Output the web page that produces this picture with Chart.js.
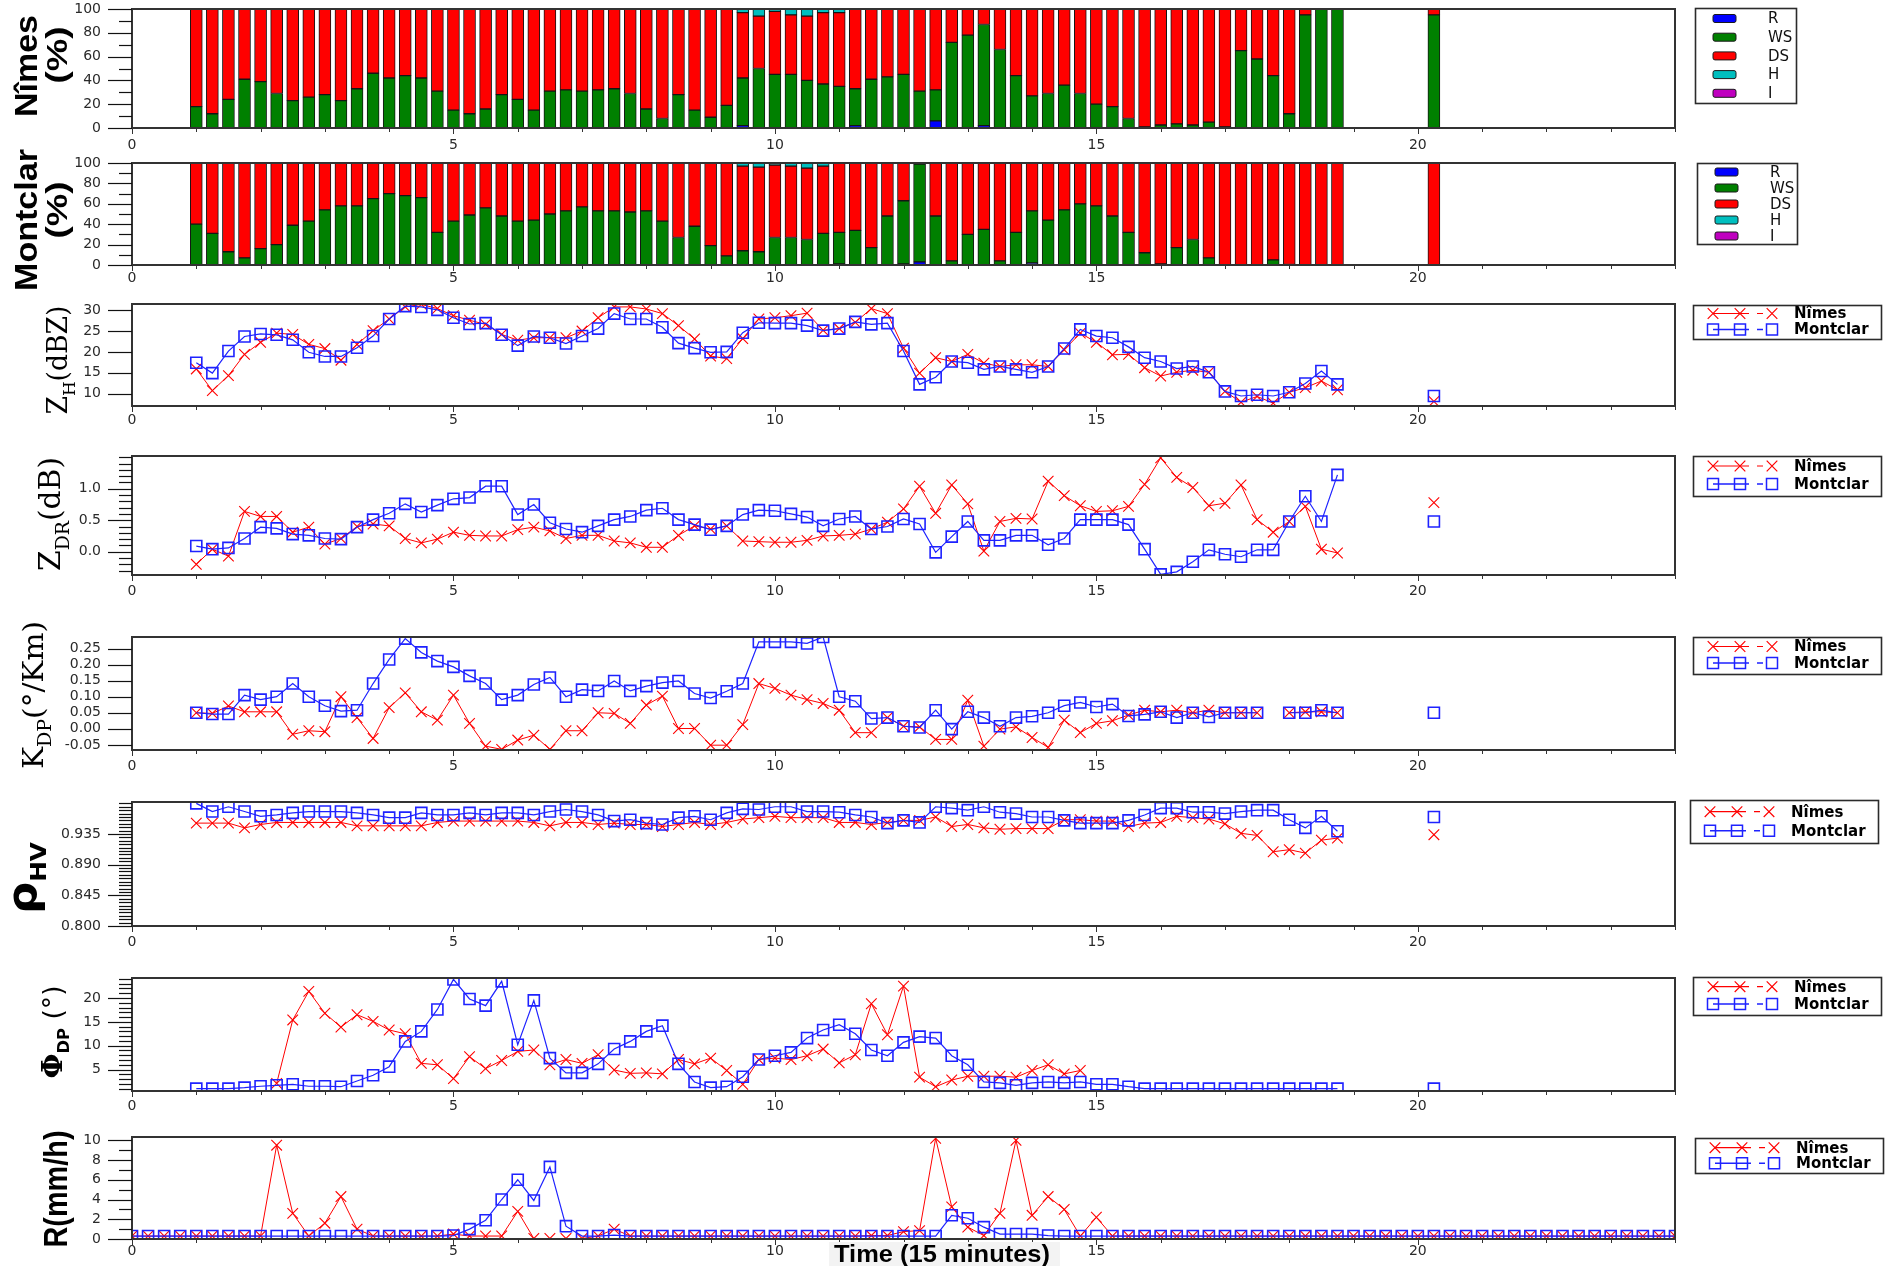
<!DOCTYPE html>
<html>
<head>
<meta charset="utf-8">
<title>Nîmes / Montclar polarimetric time series</title>
<script src="https://cdn.jsdelivr.net/npm/chart.js@4.4.1/dist/chart.umd.min.js"></script>
<style>
  html, body { margin: 0; padding: 0; background: #ffffff; }
  body { width: 1890px; height: 1266px; position: relative; overflow: hidden; }
  canvas { position: absolute; left: 0; }
</style>
</head>
<body>
<script>
// ---------- time axis (units of 15 minutes) ----------
const times = [1,1.25,1.5,1.75, 2,2.25,2.5,2.75, 3,3.25,3.5,3.75, 4,4.25,4.5,4.75, 5,5.25,5.5,5.75,
  6,6.25,6.5,6.75, 7,7.25,7.5,7.75, 8,8.25,8.5,8.75, 9,9.25,9.5,9.75, 10,10.25,10.5,10.75,
  11,11.25,11.5,11.75, 12,12.25,12.5,12.75, 13,13.25,13.5,13.75, 14,14.25,14.5,14.75,
  15,15.25,15.5,15.75, 16,16.25,16.5,16.75, 17,17.25,17.5,17.75, 18,18.25,18.5,18.75, 20.25];

const rainTimes = [0,0.25,0.5,0.75, 1,1.25,1.5,1.75, 2,2.25,2.5,2.75, 3,3.25,3.5,3.75, 4,4.25,4.5,4.75,
  5,5.25,5.5,5.75, 6,6.25,6.5,6.75, 7,7.25,7.5,7.75, 8,8.25,8.5,8.75, 9,9.25,9.5,9.75,
  10,10.25,10.5,10.75, 11,11.25,11.5,11.75, 12,12.25,12.5,12.75, 13,13.25,13.5,13.75,
  14,14.25,14.5,14.75, 15,15.25,15.5,15.75, 16,16.25,16.5,16.75, 17,17.25,17.5,17.75,
  18,18.25,18.5,18.75, 19,19.25,19.5,19.75, 20,20.25,20.5,20.75, 21,21.25,21.5,21.75,
  22,22.25,22.5,22.75, 23,23.25,23.5,23.75, 24];

// ---------- hydrometeor classes (%) : R, WS, DS, H, I ----------
const nimesR  = [0,0,0,0,0,0,0,0,0,0, 0,0,0,0,0,0,0,0,0,0, 0,0,0,0,0,0,0,0,0,0, 0,0,0,0,2,0,
  0,0,0,0,0,2,0,0,0,0, 6,0,0,2,0,0,0,0,0,0, 0,0,0,0,0,0,0,0,0,0, 0,0,0,0,0,0, 0];
const nimesWS = [18,12,24,41,39,29,23,26,28,23, 33,46,42,44,42,31,15,12,16,28, 24,15,31,32,31,32,33,29,16,8, 28,15,9,19,40,50,
  45,45,40,37,35,31,41,43,45,31, 26,72,78,85,66,44,27,29,36,29, 20,18,8,1,2.5,3.5,2.5,5,1,65, 58,44,12,95,100,100, 95];
const nimesDS = [82,88,76,59,61,71,77,74,72,77, 67,54,58,56,58,69,85,88,84,72, 76,85,69,68,69,68,67,71,84,92, 72,85,91,81,55,44,
  53,50,54,60,62,67,59,57,55,69, 68,28,22,13,34,56,73,71,64,71, 80,82,92,99,97.5,96.5,97.5,95,99,35, 42,56,88,5,0,0, 5];
const nimesH  = [0,0,0,0,0,0,0,0,0,0, 0,0,0,0,0,0,0,0,0,0, 0,0,0,0,0,0,0,0,0,0, 0,0,0,0,3,6,
  2,5,6,3,3,0,0,0,0,0, 0,0,0,0,0,0,0,0,0,0, 0,0,0,0,0,0,0,0,0,0, 0,0,0,0,0,0, 0];
const nimesI  = new Array(times.length).fill(0);

const montR  = [0,0,0,0,0,0,0,0,0,0, 0,0,0,0,0,0,0,0,0,0, 0,0,0,0,0,0,0,0,0,0, 0,0,0,0,0,0,
  0,0,0,0,1,0,0,0,1,3, 0,0,0,0,0,0,2,0,0,0, 0,0,0,0,0,0,0,0,0,0, 0,0,0,0,0,0, 0];
const montWS = [40,31,13,7,16,20,39,43,54,58, 58,65,70,68,66,32,43,49,56,48, 43,44,50,53,57,53,53,52,53,43, 27,38,19,9,14,13,
  27,27,25,31,31,34,17,48,62,96, 48,4,30,35,4,32,51,44,54,60, 58,48,32,12,1,17,25,7,0,0, 0,5,0.5,0,0,0, 0];
const montDS = [60,69,87,93,84,80,61,57,46,42, 42,35,30,32,34,68,57,51,44,52, 57,56,50,47,43,47,47,48,47,57, 73,62,81,91,83,83,
  71,70,70,66,68,66,83,52,37,1, 52,96,70,65,96,68,47,56,46,40, 42,52,68,88,99,83,75,93,100,100, 100,95,99.5,100,100,100, 100];
const montH  = [0,0,0,0,0,0,0,0,0,0, 0,0,0,0,0,0,0,0,0,0, 0,0,0,0,0,0,0,0,0,0, 0,0,0,0,3,4,
  2,3,5,3,0,0,0,0,0,0, 0,0,0,0,0,0,0,0,0,0, 0,0,0,0,0,0,0,0,0,0, 0,0,0,0,0,0, 0];
const montI  = new Array(times.length).fill(0);

// ---------- reflectivity Z_H (dBZ) ----------
const zhNimes = [15.9,10.7,14.3,19.4,22.3,24.5,24.2,21.8,20.8,18.0, 21.8,25.1,27.9,30.8,31.4,30.4,28.7,27.6,26.6,24.2,
  22.8,23.4,23.4,23.4,25.0,28.2,30.8,30.8,30.3,29.2, 26.3,23.1,19.0,18.4,23.2,27.9,
  28.2,28.7,29.3,25.2,25.6,27.1,30.4,29.2,20.9,14.9, 18.6,17.7,19.4,17.3,16.5,16.9,16.9,16.5,20.5,24.5,
  22.3,19.3,19.4,16.2,14.2,15.1,15.6,15.1,10.5,7.9, 9.3,7.7,10.3,11.4,13.0,10.9, 8.1];
const zhMont = [17.4,14.9,20.2,23.7,24.3,24.1,22.9,19.9,18.9,18.9, 21.0,23.8,27.9,31.0,30.8,30.1,28.2,26.7,26.9,24.1,
  21.5,23.7,23.4,22.0,23.8,25.6,29.2,27.9,27.9,25.9, 22.1,20.9,19.9,20.0,24.6,27.0,
  26.9,26.9,26.3,25.1,25.6,27.2,26.6,26.9,20.2,12.2, 13.9,17.7,17.4,15.8,16.5,15.8,15.1,16.5,20.8,25.4,
  23.8,23.4,21.2,18.6,17.7,16.0,16.5,15.1,10.5,9.4, 9.7,9.4,10.3,12.4,15.4,12.2, 9.4];

// ---------- differential reflectivity Z_DR (dB) ----------
const zdrNimes = [-0.20,0.04,-0.07,0.64,0.56,0.56,0.31,0.39,0.12,0.21, 0.40,0.44,0.41,0.21,0.14,0.20,0.31,0.26,0.25,0.25,
  0.35,0.39,0.33,0.21,0.26,0.26,0.17,0.14,0.07,0.07, 0.26,0.41,0.36,0.41,0.17,0.16,
  0.15,0.15,0.18,0.25,0.26,0.28,0.36,0.47,0.68,1.04, 0.61,1.06,0.76,0.01,0.48,0.53,0.52,1.12,0.89,0.73,
  0.64,0.65,0.72,1.07,1.49,1.18,1.02,0.73,0.77,1.06, 0.51,0.31,0.48,0.72,0.04,-0.02, 0.78];
const zdrMont = [0.09,0.04,0.06,0.21,0.39,0.37,0.28,0.26,0.21,0.20, 0.39,0.51,0.61,0.76,0.63,0.74,0.84,0.86,1.04,1.04,
  0.59,0.75,0.46,0.36,0.31,0.41,0.51,0.56,0.66,0.69, 0.51,0.43,0.35,0.41,0.59,0.66,
  0.65,0.60,0.55,0.41,0.52,0.56,0.36,0.40,0.52,0.44, -0.01,0.24,0.48,0.18,0.18,0.26,0.26,0.11,0.21,0.51,
  0.51,0.51,0.43,0.04,-0.36,-0.32,-0.16,0.03,-0.04,-0.08, 0.03,0.03,0.48,0.88,0.48,1.22, 0.48];

// ---------- specific differential phase K_DP (deg/km) ----------
const kdpNimes = [0.050,0.048,0.071,0.053,0.053,0.053,-0.017,-0.006,-0.009,0.100, 0.035,-0.030,0.066,0.112,0.053,0.027,0.105,0.017,-0.054,-0.064,
  -0.035,-0.020,-0.064,-0.006,-0.006,0.050,0.048,0.017,0.074,0.102, 0.001,0.001,-0.051,-0.051,0.013,0.141,
  0.126,0.105,0.091,0.079,0.058,-0.012,-0.012,0.035,0.008,0.006, -0.033,-0.033,0.089,-0.054,-0.001,0.006,-0.027,-0.058,0.027,-0.012,
  0.017,0.025,0.043,0.058,0.053,0.058,0.050,0.058,0.050,0.050, 0.050,null,0.050,0.053,0.053,0.050, null];
const kdpMont = [0.050,0.046,0.046,0.105,0.091,0.100,0.141,0.100,0.072,0.055, 0.058,0.141,0.216,0.281,0.238,0.211,0.193,0.165,0.141,0.091,
  0.105,0.138,0.160,0.100,0.122,0.118,0.149,0.118,0.133,0.144, 0.149,0.110,0.096,0.117,0.141,0.271,
  0.271,0.271,0.266,0.286,0.100,0.086,0.032,0.035,0.008,0.004, 0.058,-0.001,0.053,0.035,0.008,0.035,0.039,0.050,0.072,0.082,
  0.068,0.077,0.040,0.045,0.053,0.035,0.050,0.037,0.050,0.050, 0.050,null,0.050,0.050,0.058,0.050, 0.050];

// ---------- co-polar correlation rho_HV ----------
const rhoNimes = [0.951,0.951,0.951,0.944,0.949,0.952,0.952,0.952,0.952,0.952, 0.947,0.947,0.947,0.947,0.947,0.952,0.954,0.954,0.954,0.954,
  0.954,0.952,0.947,0.952,0.952,0.949,0.951,0.949,0.949,0.946, 0.949,0.952,0.949,0.952,0.957,0.959,
  0.961,0.959,0.959,0.959,0.952,0.952,0.949,0.952,0.955,0.955, 0.960,0.946,0.949,0.944,0.942,0.943,0.943,0.943,0.956,0.956,
  0.954,0.954,0.946,0.951,0.952,0.961,0.959,0.957,0.950,0.936, 0.933,0.909,0.912,0.907,0.926,0.929, 0.934];
const rhoMont = [0.980,0.968,0.975,0.968,0.961,0.963,0.966,0.968,0.968,0.968, 0.966,0.963,0.959,0.959,0.966,0.963,0.963,0.966,0.963,0.966,
  0.966,0.963,0.968,0.971,0.968,0.963,0.954,0.956,0.951,0.949, 0.959,0.961,0.956,0.966,0.972,0.971,
  0.975,0.975,0.968,0.968,0.967,0.963,0.960,0.951,0.955,0.952, 0.975,0.973,0.970,0.975,0.967,0.965,0.960,0.960,0.955,0.951,
  0.951,0.951,0.955,0.963,0.973,0.973,0.967,0.967,0.965,0.968, 0.970,0.970,0.956,0.944,0.961,0.939, 0.960];

// ---------- differential phase Phi_DP (deg) ----------
const phiNimes = [null,null,null,null,null,2.1,15.4,21.4,16.8,13.9, 16.5,15.1,13.3,12.5,6.3,6.0,3.1,7.7,5.2,6.9,
  8.8,9.1,6.0,7.1,6.3,8.1,4.9,4.2,4.3,4.1, 7.1,6.2,7.4,4.8,1.9,7.1,
  7.4,7.1,7.9,9.3,6.4,8.1,18.8,12.3,22.5,3.4, 1.4,2.8,3.6,3.6,3.6,3.4,4.8,6.0,4.1,4.8,
  null,null,null,null,null,null,null,null,null,null, null,null,null,null,null,null, null];
const phiMont = [1.0,1.0,1.0,1.2,1.5,1.7,1.9,1.5,1.5,1.4, 2.6,3.8,5.6,10.9,13.0,17.6,23.9,19.8,18.4,23.5,
  10.2,19.5,7.4,4.3,4.3,6.2,9.3,10.9,13.0,14.2, 6.2,2.4,1.2,1.4,3.5,7.1,
  7.9,8.6,11.6,13.3,14.4,12.5,9.1,7.9,10.7,11.9, 11.6,7.9,6.0,2.4,2.2,1.7,2.2,2.4,2.2,2.4,
  1.9,1.9,1.4,1.0,1.0,1.0,1.0,1.0,1.0,1.0, 1.0,1.0,1.0,1.0,1.0,1.0, 1.0];

// ---------- rain rate R (mm/h), sampled over the whole axis ----------
const rainNimes = [0.3,0.3,0.3,0.3,
  0.3,0.3,0.3,0.3,0.3,9.5,2.6,0.3,1.6,4.3, 1.0,0.3,0.3,0.3,0.3,0.3,0.5,0.3,0.3,0.3,
  2.8,0.05,0.05,0.05,0.05,0.3,1.0,0.3,0.3,0.3, 0.3,0.3,0.3,0.3,0.3,0.3,
  0.3,0.3,0.3,0.3,0.3,0.3,0.35,0.35,0.75,0.85, 10.2,3.25,1.2,0.35,2.6,10.0,2.4,4.3,3.0,0.3,
  2.2,0.3,0.3,0.3,0.3,0.3,0.3,0.3,0.3,0.3, 0.3,0.3,0.3,0.3,0.3,0.3,
  0.3,0.3,0.3,0.3,0.3,0.3,0.3,0.3,0.3,0.3, 0.3,0.3,0.3,0.3,0.3,0.3,0.3,0.3,0.3,0.3, 0.3];
const rainMont = [0.3,0.3,0.3,0.3,
  0.3,0.3,0.3,0.3,0.3,0.3,0.3,0.3,0.3,0.3, 0.3,0.3,0.3,0.3,0.3,0.3,0.35,1.0,1.9,4.0,
  6.0,3.9,7.3,1.3,0.3,0.3,0.4,0.3,0.3,0.3, 0.3,0.3,0.3,0.3,0.3,0.3,
  0.3,0.3,0.3,0.3,0.3,0.3,0.3,0.3,0.3,0.3, 0.3,2.4,2.1,1.2,0.5,0.5,0.5,0.35,0.3,0.3,
  0.3,0.3,0.3,0.3,0.3,0.3,0.3,0.3,0.3,0.3, 0.3,0.3,0.3,0.3,0.3,0.3,
  0.3,0.3,0.3,0.3,0.3,0.3,0.3,0.3,0.3,0.3, 0.3,0.3,0.3,0.3,0.3,0.3,0.3,0.3,0.3,0.3, 0.3];

// ---------- tick labels ----------
const timeTickLabels = [0, 5, 10, 15, 20];
const pctTickLabels  = [0, 20, 40, 60, 80, 100];
const zhTickLabels   = [10, 15, 20, 25, 30];
const zdrTickLabels  = [0.0, 0.5, 1.0];
const kdpTickLabels  = [-0.05, 0.00, 0.05, 0.10, 0.15, 0.20, 0.25];
const rhoTickLabels  = [0.800, 0.845, 0.890, 0.935];
const phiTickLabels  = [5, 10, 15, 20];
const rainTickLabels = [0, 2, 4, 6, 8, 10];

const classNames = ['R', 'WS', 'DS', 'H', 'I'];
const stationNames = ['Nîmes', 'Montclar'];

// ---------- drawing constants ----------
const PAGE_W = 1890;
const PLOT_L = 132, PLOT_R = 1675;
const PAD_T = 26, PAD_B = 36;
const RED = '#ff0000', BLUE = '#1e22ff';
const CLASS_COLORS = ['#0000ff', '#008000', '#ff0000', '#00bfbf', '#bf00bf'];
const TICK_FONT = { family: 'DejaVu Sans', size: 14 };
const TICK_COLOR = '#2a2a2a';
const SERIF = '"DejaVu Serif", serif';
const SANS = '"DejaVu Sans", sans-serif';
const LIB = '"Liberation Sans", Arial, sans-serif';

Chart.defaults.font.family = 'DejaVu Sans';

function buildTicks(lo, hi, step, labels) {
  const n = Math.round((hi - lo) / step);
  const out = [];
  for (let k = 0; k <= n; k++) {
    const v = +(lo + k * step).toFixed(6);
    out.push({ value: v, lab: labels.some(l => Math.abs(l - v) < step / 100) });
  }
  return out;
}

const PANELS = [
  { kind: 'bar', top: 9, bottom: 128, yMin: 0, yMax: 100, xGap: 17,
    yt: { lo: 0, hi: 100, step: 10, labels: pctTickLabels, dec: 0 },
    classes: [nimesR, nimesWS, nimesDS, nimesH, nimesI],
    legend: { x: 1695, y: 8, w: 101, h: 95, rows: [18.5, 37.2, 55.9, 74.6, 93.3] },
    titles: [
      { x: 37, y: 66, len: 102, parts: [{ t: 'Nîmes', font: 'bold 31px ' + LIB }] },
      { x: 67, y: 55, len: 57, parts: [{ t: '(%)', font: 'bold 29px ' + LIB }] } ] },
  { kind: 'bar', top: 163, bottom: 265, yMin: 0, yMax: 100, xGap: 13,
    yt: { lo: 0, hi: 100, step: 10, labels: pctTickLabels, dec: 0 },
    classes: [montR, montWS, montDS, montH, montI],
    legend: { x: 1697, y: 163, w: 100, h: 81, rows: [172, 188, 204, 220, 236] },
    titles: [
      { x: 37, y: 220, len: 142, parts: [{ t: 'Montclar', font: 'bold 31px ' + LIB }] },
      { x: 67, y: 210, len: 57, parts: [{ t: '(%)', font: 'bold 29px ' + LIB }] } ] },
  { kind: 'line', top: 304, bottom: 406, yMin: 7, yMax: 31.5, xGap: 14,
    yt: { lo: 10, hi: 30, step: 5, labels: zhTickLabels, dec: 0 },
    series: [zhNimes, zhMont], x: times,
    legend: { x: 1693, y: 305, w: 188, h: 34, rows: [313.5, 329.5] },
    titles: [{ x: 67, y: 360, len: 109, parts: [
      { t: 'Z', font: '27px ' + SERIF }, { t: 'H', font: '17px ' + SERIF, dy: 8 }, { t: '(dBZ)', font: '27px ' + SERIF }] }] },
  { kind: 'line', top: 456, bottom: 575, yMin: -0.37, yMax: 1.52, xGap: 16,
    yt: { lo: -0.3, hi: 1.5, step: 0.1, labels: zdrTickLabels, dec: 1 },
    series: [zdrNimes, zdrMont], x: times,
    legend: { x: 1693, y: 456, w: 188, h: 40, rows: [466, 484] },
    titles: [{ x: 60, y: 514, len: 114, parts: [
      { t: 'Z', font: '30px ' + SERIF }, { t: 'DR', font: '19px ' + SERIF, dy: 9 }, { t: '(dB)', font: '30px ' + SERIF }] }] },
  { kind: 'line', top: 637, bottom: 750, yMin: -0.066, yMax: 0.286, xGap: 16,
    yt: { lo: -0.05, hi: 0.25, step: 0.05, labels: kdpTickLabels, dec: 2 },
    series: [kdpNimes, kdpMont], x: times,
    legend: { x: 1693, y: 637, w: 188, h: 37, rows: [646.5, 663] },
    titles: [{ x: 43, y: 695, len: 148, parts: [
      { t: 'K', font: '28px ' + SERIF }, { t: 'DP', font: '18px ' + SERIF, dy: 8 }, { t: '(°/Km)', font: '28px ' + SERIF }] }] },
  { kind: 'line', top: 802, bottom: 926, yMin: 0.8, yMax: 0.982, xGap: 16.5,
    yt: { lo: 0.8, hi: 0.98, step: 0.005, labels: rhoTickLabels, dec: 3 },
    series: [rhoNimes, rhoMont], x: times,
    legend: { x: 1690, y: 800, w: 188, h: 43, rows: [811.7, 830.7] },
    titles: [{ x: 36, y: 878, len: 72, parts: [
      { t: 'ρ', font: 'bold 40px ' + SANS }, { t: 'HV', font: 'bold 22px ' + SANS, dy: 10 }] }] },
  { kind: 'line', top: 978, bottom: 1091, yMin: 0.5, yMax: 24.2, xGap: 15.5,
    yt: { lo: 1, hi: 24, step: 1, labels: phiTickLabels, dec: 0 },
    series: [phiNimes, phiMont], x: times,
    legend: { x: 1693, y: 977, w: 188, h: 38, rows: [986.7, 1004] },
    titles: [{ x: 62, y: 1032, len: 93, parts: [
      { t: 'Φ', font: 'bold 28px ' + SERIF }, { t: 'DP', font: 'bold 16px ' + SANS, dy: 7 }, { t: ' (°)', font: '26px ' + SANS }] }] },
  { kind: 'line', top: 1137, bottom: 1239, yMin: 0, yMax: 10.33, xGap: 12.5,
    yt: { lo: 0, hi: 10, step: 1, labels: rainTickLabels, dec: 0 },
    series: [rainNimes, rainMont], x: rainTimes,
    legend: { x: 1695, y: 1138, w: 188, h: 35, rows: [1147.7, 1163.3] },
    titles: [{ x: 67, y: 1189, len: 117, parts: [{ t: 'R(mm/h)', font: 'bold 34px ' + LIB }] }],
    xTitle: { x: 942, y: 1262, len: 216, text: 'Time (15 minutes)', font: 'bold 24px ' + LIB } }
];

// rotated axis title made of several runs (main text, subscripts)
function drawRotatedTitle(ctx, spec, oy) {
  ctx.save();
  const widths = spec.parts.map(p => { ctx.font = p.font; return ctx.measureText(p.t).width; });
  const W = widths.reduce((a, b) => a + b, 0);
  const sx = spec.len ? spec.len / W : 1;
  ctx.translate(spec.x, spec.y - oy);
  ctx.rotate(-Math.PI / 2);
  ctx.scale(sx, 1);
  ctx.fillStyle = '#000';
  ctx.textAlign = 'left';
  ctx.textBaseline = 'alphabetic';
  let cx = -W / 2;
  spec.parts.forEach((p, i) => {
    ctx.font = p.font;
    ctx.fillText(p.t, cx, p.dy || 0);
    cx += widths[i];
  });
  ctx.restore();
}

function roundRect(ctx, x, y, w, h, r) {
  ctx.beginPath();
  ctx.moveTo(x + r, y);
  ctx.lineTo(x + w - r, y); ctx.quadraticCurveTo(x + w, y, x + w, y + r);
  ctx.lineTo(x + w, y + h - r); ctx.quadraticCurveTo(x + w, y + h, x + w - r, y + h);
  ctx.lineTo(x + r, y + h); ctx.quadraticCurveTo(x, y + h, x, y + h - r);
  ctx.lineTo(x, y + r); ctx.quadraticCurveTo(x, y, x + r, y);
  ctx.closePath();
}

function legendBox(ctx, L, oy) {
  ctx.fillStyle = '#ffffff';
  ctx.fillRect(L.x, L.y - oy, L.w, L.h);
  ctx.strokeStyle = '#2b2b2b';
  ctx.lineWidth = 1.6;
  ctx.strokeRect(L.x + 0.5, L.y - oy + 0.5, L.w, L.h);
}

function drawBarLegend(ctx, chart, L, oy) {
  legendBox(ctx, L, oy);
  chart.data.datasets.forEach((ds, k) => {
    const y = L.rows[k] - oy;
    roundRect(ctx, L.x + 18, y - 4, 23, 8, 2);
    ctx.fillStyle = ds.backgroundColor; ctx.fill();
    ctx.strokeStyle = '#1a1a1a'; ctx.lineWidth = 1; ctx.stroke();
    ctx.fillStyle = '#111';
    ctx.font = '15px ' + SANS;
    ctx.textAlign = 'left'; ctx.textBaseline = 'middle';
    ctx.fillText(ds.label, L.x + 73, y + 1);
  });
}

function legendMarker(ctx, style, x, y) {
  ctx.beginPath();
  if (style === 'rect') {
    ctx.rect(x - 5.5, y - 5.5, 11, 11);
  } else {
    ctx.moveTo(x - 5.3, y - 5.3); ctx.lineTo(x + 5.3, y + 5.3);
    ctx.moveTo(x + 5.3, y - 5.3); ctx.lineTo(x - 5.3, y + 5.3);
  }
  ctx.stroke();
}

function drawLineLegend(ctx, chart, L, oy) {
  legendBox(ctx, L, oy);
  stationNames.forEach((name, k) => {
    const ds = chart.data.datasets.find(d => d.label === name);
    const y = L.rows[k] - oy;
    const x0 = L.x;
    ctx.strokeStyle = ds.borderColor;
    ctx.lineWidth = ds.pointStyle === 'rect' ? 1.5 : 1.2;
    ctx.beginPath();
    ctx.moveTo(x0 + 20, y); ctx.lineTo(x0 + 56, y);
    ctx.moveTo(x0 + 64, y); ctx.lineTo(x0 + 70, y);
    ctx.stroke();
    [20, 47, 79].forEach(dx => legendMarker(ctx, ds.pointStyle, x0 + dx, y));
    ctx.fillStyle = '#000';
    ctx.font = 'bold 15px ' + SANS;
    ctx.textAlign = 'left'; ctx.textBaseline = 'middle';
    ctx.fillText(name, x0 + 101, y + 1);
  });
}

function decorPlugin(panel) {
  const oy = panel.top - PAD_T;
  return {
    id: 'panelDecor',
    afterDatasetsDraw(chart) {
      const ctx = chart.ctx, a = chart.chartArea;
      ctx.save();
      // frame
      ctx.strokeStyle = '#333';
      ctx.lineWidth = 2;
      ctx.strokeRect(a.left, a.top, a.right - a.left, a.bottom - a.top);
      // y tick marks, long for labelled values
      const ys = chart.scales.y;
      ctx.strokeStyle = '#111';
      ctx.lineWidth = 1.2;
      ys.ticks.forEach(t => {
        const py = Math.round(ys.getPixelForValue(t.value)) + 0.5;
        const len = t.lab ? 24 : 13;
        ctx.beginPath(); ctx.moveTo(a.left - len, py); ctx.lineTo(a.left, py); ctx.stroke();
      });
      // x tick marks below the frame
      const xs = chart.scales.x;
      ctx.strokeStyle = '#333';
      ctx.lineWidth = 1;
      xs.ticks.forEach(t => {
        const px = Math.round(xs.getPixelForValue(t.value)) + 0.5;
        const len = t.lab ? 5 : 3;
        ctx.beginPath(); ctx.moveTo(px, a.bottom + 1); ctx.lineTo(px, a.bottom + 1 + len); ctx.stroke();
      });
      ctx.restore();
    },
    afterDraw(chart) {
      const ctx = chart.ctx;
      ctx.save();
      if (panel.kind === 'bar') drawBarLegend(ctx, chart, panel.legend, oy);
      else drawLineLegend(ctx, chart, panel.legend, oy);
      panel.titles.forEach(s => drawRotatedTitle(ctx, s, oy));
      if (panel.xTitle) {
        const T = panel.xTitle;
        ctx.fillStyle = '#f3f3f3';
        ctx.fillRect(829, 1242 - oy, 231, 30);
        ctx.font = T.font;
        const w = ctx.measureText(T.text).width;
        ctx.translate(T.x, T.y - oy);
        ctx.scale(T.len / w, 1);
        ctx.fillStyle = '#000';
        ctx.textAlign = 'center'; ctx.textBaseline = 'alphabetic';
        ctx.fillText(T.text, 0, 0);
      }
      ctx.restore();
    }
  };
}

function scalesFor(panel, isBar) {
  const yt = panel.yt;
  return {
    x: {
      type: 'linear', min: 0, max: 24, offset: false, stacked: isBar,
      grid: { display: false, drawTicks: false }, border: { display: false },
      afterFit: s => { s.height = PAD_B; s.paddingLeft = 0; s.paddingRight = 0; },
      afterBuildTicks: s => { s.ticks = buildTicks(0, 24, 1, timeTickLabels); },
      ticks: { autoSkip: false, maxRotation: 0, minRotation: 0, padding: panel.xGap - 8.4,
        font: TICK_FONT, color: TICK_COLOR,
        callback: (v, i, ticks) => (ticks[i] && ticks[i].lab ? String(v) : '') }
    },
    y: {
      type: 'linear', min: panel.yMin, max: panel.yMax, stacked: isBar,
      grid: { display: false, drawTicks: false }, border: { display: false },
      afterFit: s => { s.width = PLOT_L; s.paddingTop = 0; s.paddingBottom = 0; },
      afterBuildTicks: s => { s.ticks = buildTicks(yt.lo, yt.hi, yt.step, yt.labels); },
      ticks: { autoSkip: false, padding: PLOT_L - 101, font: TICK_FONT, color: TICK_COLOR,
        callback: (v, i, ticks) => (ticks[i] && ticks[i].lab ? Number(v).toFixed(yt.dec) : '') }
    }
  };
}

function makeCanvas(panel) {
  const cv = document.createElement('canvas');
  const h = panel.bottom - panel.top + PAD_T + PAD_B;
  cv.width = PAGE_W; cv.height = h;
  cv.style.width = PAGE_W + 'px'; cv.style.height = h + 'px';
  cv.style.top = (panel.top - PAD_T) + 'px';
  document.body.appendChild(cv);
  return cv;
}

// segments that jump over a missing time step are left undrawn
const gapSegment = {
  borderColor: c => (c.p1.parsed.x - c.p0.parsed.x > 0.3 ? 'rgba(0,0,0,0)' : undefined)
};

PANELS.forEach(panel => {
  const cv = makeCanvas(panel);
  const isBar = panel.kind === 'bar';
  let type, datasets;
  if (isBar) {
    type = 'bar';
    datasets = panel.classes.map((vals, k) => ({
      label: classNames[k],
      data: times.map((t, j) => ({ x: t, y: vals[j] === 0 ? null : vals[j] })),
      backgroundColor: CLASS_COLORS[k],
      borderColor: '#151515', borderWidth: 1, borderSkipped: false,
      barThickness: 12
    }));
  } else {
    type = 'line';
    const xs = panel.x;
    datasets = [
      { label: stationNames[0], order: 1,
        data: xs.map((t, j) => ({ x: t, y: panel.series[0][j] })),
        borderColor: RED, borderWidth: 1, tension: 0, spanGaps: false, segment: gapSegment,
        pointStyle: 'crossRot', pointRadius: 7.5, pointBorderWidth: 1.1,
        pointBorderColor: RED, pointBackgroundColor: RED },
      { label: stationNames[1], order: 0,
        data: xs.map((t, j) => ({ x: t, y: panel.series[1][j] })),
        borderColor: BLUE, borderWidth: 1.2, tension: 0, spanGaps: false, segment: gapSegment,
        pointStyle: 'rect', pointRadius: 7.8, pointBorderWidth: 1.6,
        pointBorderColor: BLUE, pointBackgroundColor: 'rgba(0,0,0,0)' }
    ];
  }
  new Chart(cv, {
    type,
    data: { datasets },
    options: {
      responsive: false, animation: false, devicePixelRatio: 1, events: [],
      layout: { padding: { left: 0, right: PAGE_W - PLOT_R, top: PAD_T, bottom: 0 } },
      plugins: { legend: { display: false }, tooltip: { enabled: false }, title: { display: false } },
      scales: scalesFor(panel, isBar)
    },
    plugins: [decorPlugin(panel)]
  });
});
</script>
</body>
</html>
